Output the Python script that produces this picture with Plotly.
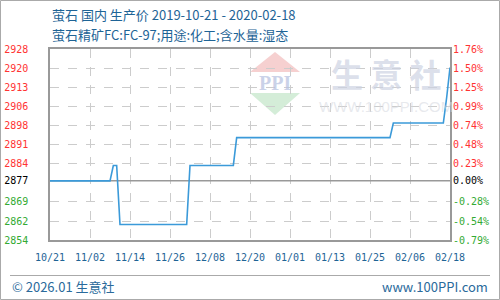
import plotly.graph_objects as go

# ---------------- data ----------------
BASE = 2877
dates = ["2019-10-21", "2019-11-08", "2019-11-09", "2019-11-10", "2019-11-11",
         "2019-12-01", "2019-12-02", "2019-12-15", "2019-12-16", "2020-01-31",
         "2020-02-01", "2020-02-16", "2020-02-17", "2020-02-18"]
prices = [2877, 2877, 2882.9, 2882.9, 2860.2,
          2860.2, 2882.9, 2882.9, 2893.6, 2893.6,
          2899.2, 2899.2, 2909.0, 2920.5]

pct_ticks = [1.76, 1.50, 1.25, 0.99, 0.74, 0.48, 0.23, 0.00, -0.28, -0.54, -0.79]
price_tick_labels = ["2928", "2920", "2913", "2906", "2898", "2891", "2884",
                     "2877", "2869", "2862", "2854"]
pct_tick_labels = ["1.76%", "1.50%", "1.25%", "0.99%", "0.74%", "0.48%", "0.23%",
                   "0.00%", "-0.28%", "-0.54%", "-0.79%"]
x_tick_dates = ["2019-10-21", "2019-11-02", "2019-11-14", "2019-11-26", "2019-12-08",
                "2019-12-20", "2020-01-01", "2020-01-13", "2020-01-25", "2020-02-06",
                "2020-02-18"]
x_tick_labels = ["10/21", "11/02", "11/14", "11/26", "12/08", "12/20",
                 "01/01", "01/13", "01/25", "02/06", "02/18"]

title_text = "萤石 国内 生产价 2019-10-21 - 2020-02-18"
subtitle_text = "萤石精矿FC:FC-97;用途:化工;含水量:湿态"

# ---------------- helpers ----------------
W, H = 500, 300
ML, MR, MT, MB = 50, 50, 49, 60
PW, PH = W - ML - MR, H - MT - MB


def px(x):
    return (x - ML) / PW


def py(y):
    return (H - MB - y) / PH


RED, GREEN, BLACK = "#ff3333", "#33aa33", "#000000"


def tcol(p):
    return RED if p > 0 else (GREEN if p < 0 else BLACK)


tick_vals = [BASE * (1 + p / 100) for p in pct_ticks]
left_text = [f'<span style="color:{tcol(p)}">{t}</span>' for p, t in zip(pct_ticks, price_tick_labels)]
right_text = [f'<span style="color:{tcol(p)}">{t}</span>' for p, t in zip(pct_ticks, pct_tick_labels)]
yrange = [min(tick_vals), max(tick_vals)]

TICKFONT = dict(family="DejaVu Sans Mono", size=10)
BLUE_TXT = "#1e6496"

fig = go.Figure()
# base (0.00%) reference line
fig.add_trace(go.Scatter(x=[x_tick_dates[0], x_tick_dates[-1]], y=[BASE, BASE], mode="lines",
                         line=dict(color="#999999", width=1.5),
                         hoverinfo="skip", showlegend=False))
fig.add_trace(go.Scatter(x=dates, y=prices, mode="lines",
                         line=dict(color="#3b9ad9", width=1.6),
                         hoverinfo="skip", showlegend=False))
fig.add_trace(go.Scatter(x=dates, y=prices, mode="lines", yaxis="y2",
                         line=dict(width=0), opacity=0,
                         hoverinfo="skip", showlegend=False))

fig.update_layout(
    width=W, height=H,
    margin=dict(l=ML, r=MR, t=MT, b=MB, autoexpand=False),
    paper_bgcolor="white", plot_bgcolor="white",
    showlegend=False,
    xaxis=dict(type="date", range=[x_tick_dates[0], x_tick_dates[-1]],
               tickvals=x_tick_dates, ticktext=x_tick_labels, automargin=False,
               showgrid=True, gridcolor="#cccccc", griddash="dash", gridwidth=1,
               showline=True, linecolor="#999999", linewidth=1.5, mirror=True,
               ticks="", tickfont=dict(TICKFONT, color=BLUE_TXT),
               ticklabelstandoff=7, zeroline=False, fixedrange=True),
    yaxis=dict(range=yrange, tickvals=tick_vals, ticktext=left_text, automargin=False,
               showgrid=True, gridcolor="#cccccc", griddash="dash", gridwidth=1,
               showline=True, linecolor="#999999", linewidth=1.5, mirror=True,
               ticks="", tickfont=TICKFONT, ticklabelstandoff=18,
               zeroline=False, fixedrange=True),
    yaxis2=dict(range=yrange, tickvals=tick_vals, ticktext=right_text, automargin=False,
                overlaying="y", side="right", showgrid=False,
                showline=False, ticks="", tickfont=TICKFONT,
                ticklabelstandoff=2, zeroline=False, fixedrange=True),
)

shapes = []
# watermark logo triangles
shapes.append(dict(type="path", xref="paper", yref="paper",
                   path=f"M {px(275)} {py(52)} L {px(300)} {py(72)} L {px(250)} {py(72)} Z",
                   fillcolor="rgba(246,208,208,1)", line=dict(width=0), layer="below"))
shapes.append(dict(type="path", xref="paper", yref="paper",
                   path=f"M {px(250)} {py(93)} L {px(300)} {py(93)} L {px(275)} {py(115)} Z",
                   fillcolor="rgba(212,237,216,1)", line=dict(width=0), layer="below"))
# footer separator
shapes.append(dict(type="line", xref="paper", yref="paper",
                   x0=px(10), x1=px(490), y0=py(275.5), y1=py(275.5),
                   line=dict(color="#aaaaaa", width=1)))
# outer frame
shapes.append(dict(type="rect", xref="paper", yref="paper",
                   x0=px(0.5), x1=px(499.5), y0=py(299.5), y1=py(0.5),
                   line=dict(color="#aaaaaa", width=1), fillcolor="rgba(0,0,0,0)"))
fig.update_layout(shapes=shapes)

ann = []
ann.append(dict(text=title_text, xref="paper", yref="paper", x=px(50), y=py(15),
                xanchor="left", yanchor="middle", showarrow=False,
                font=dict(family="Noto Sans CJK SC", size=13, color=BLUE_TXT)))
ann.append(dict(text=subtitle_text, xref="paper", yref="paper", x=px(50), y=py(34),
                xanchor="left", yanchor="middle", showarrow=False,
                font=dict(family="Noto Sans CJK SC", size=13, color=BLUE_TXT)))
ann.append(dict(text="© 2026.01 生意社", xref="paper", yref="paper", x=px(10), y=py(286),
                xanchor="left", yanchor="middle", showarrow=False,
                font=dict(family="Noto Sans CJK SC", size=13, color="#2a6a9b")))
ann.append(dict(text="www.100PPI.com", xref="paper", yref="paper", x=px(490), y=py(286),
                xanchor="right", yanchor="middle", showarrow=False,
                font=dict(family="Noto Sans CJK SC", size=13, color="#2a6a9b")))
# watermark text
ann.append(dict(text="<b>生 意 社</b>", xref="paper", yref="paper", x=px(386), y=py(73),
                xanchor="center", yanchor="middle", showarrow=False,
                font=dict(family="Noto Sans CJK SC", size=32, color="rgba(205,210,226,0.7)")))
ann.append(dict(text="WWW.100PPI.COM", xref="paper", yref="paper", x=px(386), y=py(106),
                xanchor="center", yanchor="middle", showarrow=False,
                font=dict(family="Liberation Sans", size=15, color="rgba(215,218,225,0.6)")))
ann.append(dict(text="<b>PPI</b>", xref="paper", yref="paper", x=px(275), y=py(83),
                xanchor="center", yanchor="middle", showarrow=False,
                font=dict(family="Liberation Serif", size=20, color="rgba(185,195,225,0.75)")))
fig.update_layout(annotations=ann)

fig.write_html("out.html")
